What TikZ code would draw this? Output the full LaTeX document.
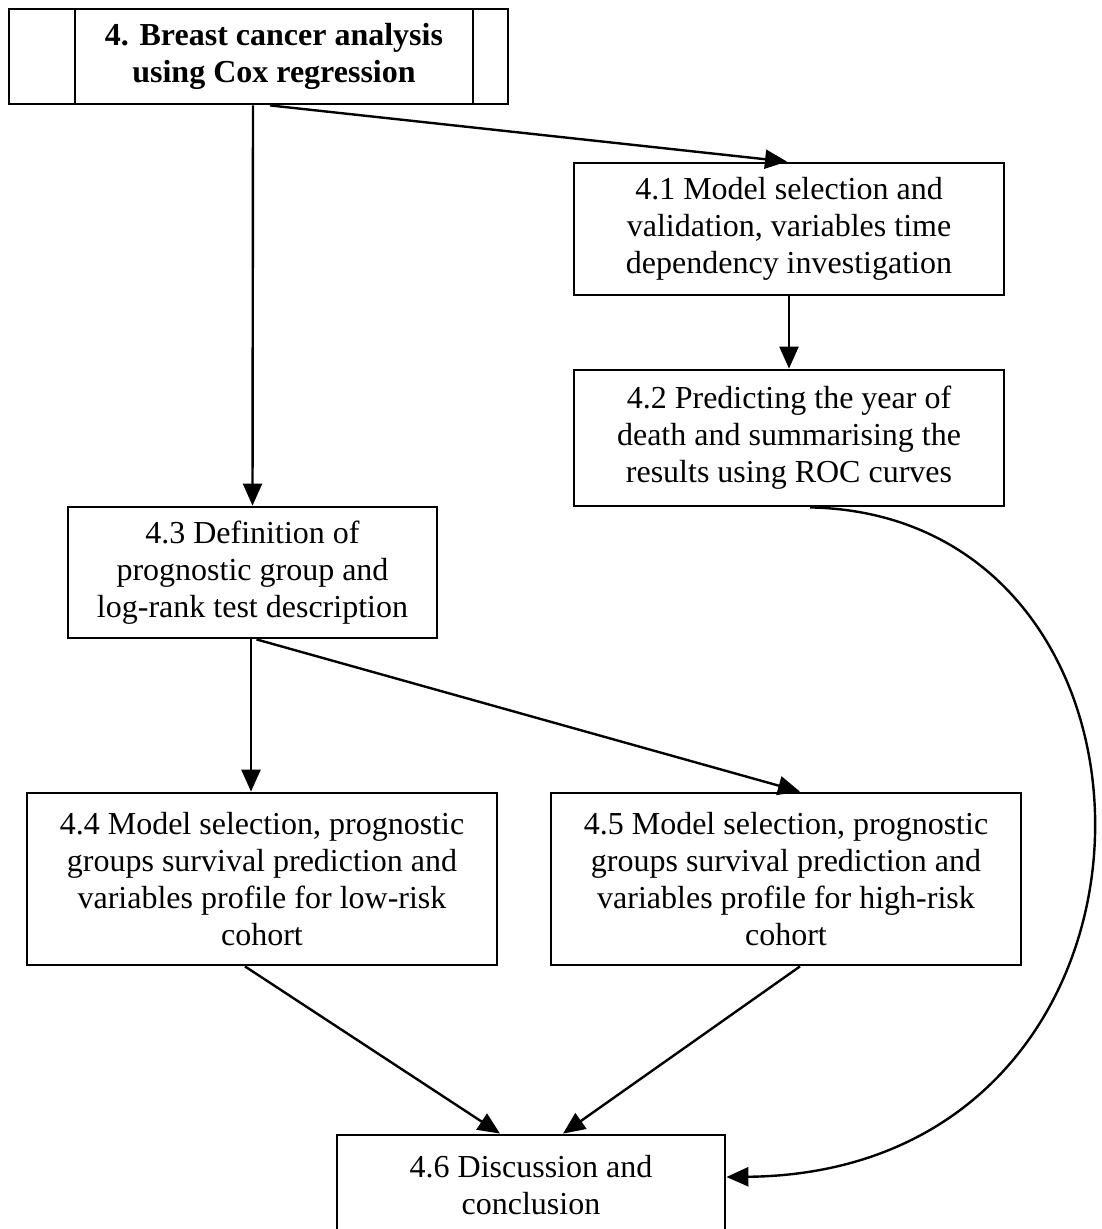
\documentclass[tikz,border=0pt]{standalone}
\usepackage{fontspec}
\setmainfont{Liberation Serif}
\usetikzlibrary{arrows.meta}
\begin{document}
\begin{tikzpicture}[x=1pt,y=-1pt,
  box/.style={draw,line width=2.8pt,rectangle,inner sep=0pt,align=center,
    font=\fontsize{32}{37}\selectfont},
  arr/.style={line width=2.4pt,-{Triangle[length=22pt,width=19pt]}}]
\useasboundingbox (0,0) rectangle (1101,1229);
\clip (0,0) rectangle (1101,1229);
\fill[white] (0,0) rectangle (1101,1229);

% title block: centre panel with a bar on each side
\node[box,outer sep=0pt,minimum width=398pt,minimum height=95pt,font=\fontsize{32}{37}\selectfont\bfseries]
  (top) at (274,56.5) {4. Breast cancer analysis\\using Cox regression};
\draw[line width=2.8pt] ([xshift=-66pt]top.north west) rectangle (top.south west);
\draw[line width=2.8pt] (top.north east) rectangle ([xshift=35pt]top.south east);

\node[box,minimum width=430pt,minimum height=132pt] (n41) at (789,229)
  {4.1 Model selection and\\validation, variables time\\dependency investigation};
\node[box,minimum width=430pt,minimum height=136pt] (n42) at (789,438)
  {4.2 Predicting the year of\\death and summarising the\\results using ROC curves};
\node[box,minimum width=369pt,minimum height=131pt] (n43) at (252.5,572.5)
  {4.3 Definition of\\prognostic group and\\log-rank test description};
\node[box,minimum width=470pt,minimum height=172pt] (n44) at (262,879)
  {4.4 Model selection, prognostic\\groups survival prediction and\\variables profile for low-risk\\cohort};
\node[box,minimum width=470pt,minimum height=172pt] (n45) at (786,879)
  {4.5 Model selection, prognostic\\groups survival prediction and\\variables profile for high-risk\\cohort};
\node[box,minimum width=388pt,minimum height=100pt] (n46) at (531,1185)
  {4.6 Discussion and\\conclusion};

% connectors
\draw[arr] ([xshift=-4pt,yshift=-1.4pt]top.south) -- ([xshift=-2pt]n41.north);
\draw[arr] ([xshift=-21pt,yshift=-1.4pt]top.south) -- (n43.north);
\draw[arr] (n41.south) -- (n42.north);
\draw[arr] ([xshift=-1.5pt]n43.south) -- ([xshift=-11pt]n44.north);
\draw[arr] ([xshift=4pt]n43.south) -- ([xshift=14pt]n45.north);
\draw[arr] ([xshift=-17pt]n44.south) -- ([xshift=-31pt]n46.north);
\draw[arr] ([xshift=14pt]n45.south) -- ([xshift=32pt]n46.north);
\draw[arr] ([xshift=21pt]n42.south) .. controls (1200,515) and (1200,1172) .. ([yshift=8pt]n46.east);
\end{tikzpicture}
\end{document}
